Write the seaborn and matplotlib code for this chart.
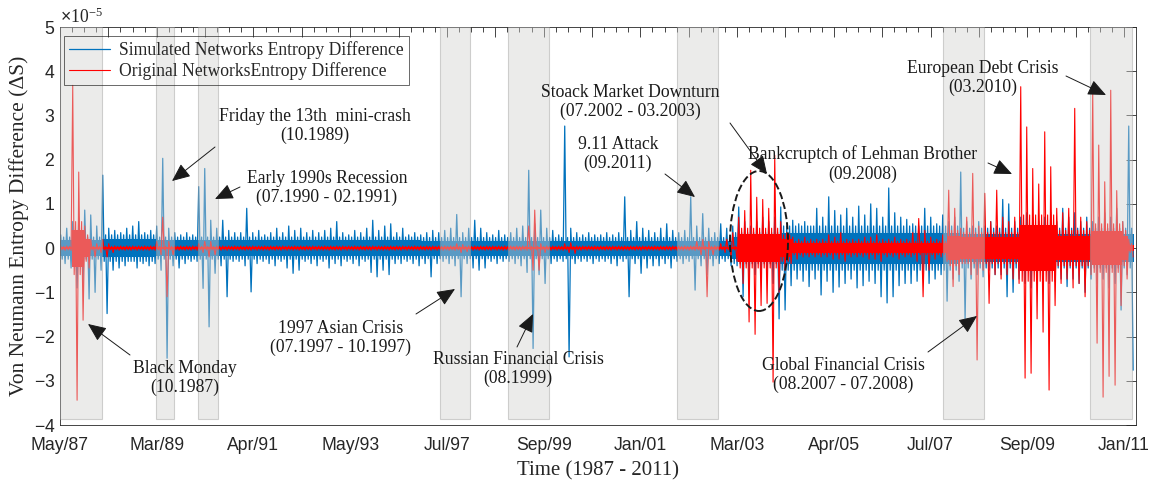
import numpy as np
import pandas as pd
import matplotlib
matplotlib.use("Agg")
import matplotlib.pyplot as plt
import seaborn as sns
from matplotlib.patches import Rectangle, Ellipse
from matplotlib.ticker import FixedLocator, ScalarFormatter

# -------------------------------
# Data (entropy difference in units of 1e-5)
# one (hi, lo) pair per bin of 33 trading days
# -------------------------------
BIN = 33
N_DAYS = 5918

sim_hi = [0.30, 0.45, 0.60, 0.70, 0.86, 0.75, 0.50, 1.65, 0.45, 0.40,
          0.35, 0.45, 0.50, 0.60, 0.35, 0.40, 0.50, 2.03, 0.45, 0.35,
          0.30, 0.35, 0.30, 1.39, 1.80, 0.63, 0.45, 0.63, 0.40, 0.35,
          0.35, 0.90, 0.35, 0.40, 0.30, 0.35, 0.45, 0.35, 0.50, 0.40,
          0.45, 0.35, 0.40, 0.35, 0.40, 0.45, 0.60, 0.35, 0.30, 0.40,
          0.35, 0.45, 0.63, 0.40, 0.50, 0.55, 0.35, 0.45, 0.30, 0.35,
          0.30, 0.35, 0.40, 0.35, 0.40, 0.45, 0.76, 0.35, 0.45, 0.63,
          0.45, 0.35, 0.30, 0.40, 0.30, 0.35, 0.45, 0.50, 1.76, 0.55,
          0.86, 0.45, 0.40, 0.30, 2.76, 0.45, 0.35, 0.30, 0.35, 0.30,
          0.30, 0.35, 0.30, 0.35, 1.16, 0.40, 0.60, 0.45, 0.40, 0.35,
          0.45, 0.55, 0.40, 0.35, 0.40, 1.16, 0.50, 0.78, 0.45, 0.35,
          0.55, 0.45, 0.50, 0.93, 0.60, 0.50, 0.60, 0.70, 0.60, 0.70,
          0.93, 0.50, 0.63, 0.55, 0.60, 0.50, 0.90, 0.70, 1.16, 0.85,
          0.75, 0.90, 0.70, 0.95, 0.75, 1.00, 0.90, 0.70, 1.36, 0.80,
          0.70, 0.65, 0.55, 0.50, 0.90, 0.70, 0.55, 0.75, 0.60, 0.70,
          1.72, 0.60, 0.50, 0.60, 0.50, 0.60, 0.50, 1.10, 1.00, 0.60,
          0.70, 0.80, 0.70, 0.60, 0.70, 0.80, 0.60, 0.90, 0.70, 0.80,
          0.60, 0.70, 0.60, 0.70, 0.80, 0.70, 0.90, 0.60, 2.76]

sim_lo = [-0.35, -0.45, -0.90, -0.80, -1.15, -1.00, -0.50, -1.48, -0.50, -0.45,
          -0.40, -0.30, -0.45, -0.35, -0.40, -0.35, -0.50, -2.49, -0.40, -0.45,
          -0.35, -0.30, -0.30, -0.91, -1.78, -0.57, -0.40, -1.10, -0.30, -0.30,
          -0.40, -0.99, -0.35, -0.30, -0.35, -0.40, -0.30, -0.45, -0.57, -0.50,
          -0.30, -0.35, -0.40, -0.30, -0.45, -0.35, -0.40, -0.30, -0.35, -0.40,
          -0.30, -0.55, -0.65, -0.50, -0.60, -0.35, -0.35, -0.30, -0.35, -0.40,
          -0.35, -0.65, -0.35, -0.30, -0.35, -0.40, -1.10, -0.35, -0.45, -0.50,
          -0.45, -0.30, -0.35, -0.30, -0.30, -0.35, -0.40, -0.55, -2.27, -0.60,
          -0.80, -0.35, -0.30, -0.30, -2.46, -0.35, -0.30, -0.30, -0.35, -0.30,
          -0.30, -0.35, -0.40, -0.30, -1.10, -0.35, -0.57, -0.45, -0.40, -0.40,
          -0.35, -0.45, -0.30, -0.35, -0.30, -0.95, -0.40, -0.60, -0.40, -0.35,
          -0.30, -0.40, -0.40, -1.10, -0.70, -0.60, -0.70, -0.60, -0.80, -1.60,
          -1.40, -0.85, -0.70, -0.75, -0.87, -0.70, -1.06, -0.75, -1.00, -0.88,
          -0.80, -0.70, -0.90, -0.85, -0.75, -0.80, -1.10, -1.24, -1.10, -0.85,
          -0.80, -0.80, -0.75, -0.70, -0.80, -0.70, -0.60, -1.20, -0.70, -0.75,
          -1.63, -0.70, -0.60, -0.65, -0.50, -0.60, -0.60, -1.10, -1.00, -0.70,
          -0.80, -0.90, -0.80, -0.70, -0.80, -0.75, -0.70, -0.87, -0.70, -0.80,
          -1.00, -0.70, -0.80, -0.70, -0.90, -0.80, -1.40, -0.60, -2.76]

orig_hi = [0.05, 0.05, 3.68, 1.72, 0.50, 0.20, 0.10, 0.20, 0.10, 0.05,
           0.05, 0.05, 0.05, 0.05, 0.05, 0.05, 0.15, 0.70, 0.15, 0.05,
           0.05, 0.05, 0.05, 0.10, 0.15, 0.15, 0.05, 0.05, 0.05, 0.05,
           0.05, 0.05, 0.05, 0.05, 0.05, 0.05, 0.05, 0.05, 0.05, 0.05,
           0.05, 0.05, 0.05, 0.05, 0.05, 0.05, 0.05, 0.05, 0.05, 0.05,
           0.05, 0.05, 0.05, 0.05, 0.05, 0.05, 0.05, 0.05, 0.05, 0.05,
           0.05, 0.05, 0.05, 0.05, 0.05, 0.05, 0.10, 0.08, 0.05, 0.05,
           0.05, 0.05, 0.05, 0.05, 0.05, 0.05, 0.05, 0.05, 0.50, 0.86,
           0.10, 0.05, 0.05, 0.05, 0.10, 0.12, 0.05, 0.05, 0.05, 0.05,
           0.05, 0.05, 0.05, 0.05, 0.05, 0.05, 0.05, 0.05, 0.05, 0.05,
           0.05, 0.05, 0.05, 0.05, 0.05, 0.05, 0.15, 0.20, 0.15, 0.05,
           0.10, 0.20, 0.35, 0.70, 0.85, 1.76, 1.15, 1.10, 0.90, 2.10,
           0.60, 0.35, 0.25, 0.20, 0.25, 0.20, 0.20, 0.20, 0.30, 0.25,
           0.35, 0.20, 0.20, 0.20, 0.25, 0.25, 0.30, 0.20, 0.20, 0.25,
           0.20, 0.20, 0.35, 0.67, 0.40, 0.25, 0.20, 0.30, 1.31, 0.90,
           0.45, 0.70, 1.69, 0.50, 1.24, 0.60, 1.31, 0.70, 0.60, 0.70,
           3.65, 2.74, 1.80, 1.45, 2.63, 1.84, 0.90, 0.80, 0.90, 3.16,
           0.70, 0.60, 3.53, 2.33, 1.50, 3.57, 1.30, 0.60, 0.20]

orig_lo = [-0.05, -0.05, -3.44, -1.63, -0.45, -0.20, -0.10, -0.20, -0.10, -0.05,
           -0.05, -0.05, -0.05, -0.05, -0.05, -0.05, -0.15, -1.10, -0.15, -0.05,
           -0.05, -0.05, -0.05, -0.10, -0.20, -0.15, -0.05, -0.05, -0.05, -0.05,
           -0.05, -0.05, -0.05, -0.05, -0.05, -0.05, -0.05, -0.05, -0.05, -0.05,
           -0.05, -0.05, -0.05, -0.05, -0.05, -0.05, -0.05, -0.05, -0.05, -0.05,
           -0.05, -0.05, -0.05, -0.05, -0.05, -0.05, -0.05, -0.05, -0.05, -0.05,
           -0.05, -0.05, -0.05, -0.05, -0.05, -0.05, -0.10, -0.08, -0.05, -0.05,
           -0.05, -0.05, -0.05, -0.05, -0.05, -0.05, -0.05, -0.05, -0.50, -0.50,
           -0.10, -0.05, -0.05, -0.05, -0.10, -0.12, -0.05, -0.05, -0.05, -0.05,
           -0.05, -0.05, -0.05, -0.05, -0.05, -0.05, -0.05, -0.05, -0.05, -0.05,
           -0.05, -0.05, -0.05, -0.05, -0.05, -0.05, -0.15, -1.10, -0.15, -0.05,
           -0.10, -0.20, -0.30, -0.80, -1.67, -1.95, -1.30, -1.25, -3.03, -1.00,
           -0.50, -0.35, -0.25, -0.20, -0.20, -0.20, -0.20, -0.20, -0.25, -0.25,
           -0.30, -0.20, -0.20, -0.20, -0.25, -0.25, -0.30, -0.20, -0.20, -0.25,
           -0.20, -0.20, -0.30, -1.10, -0.50, -0.25, -0.20, -0.30, -0.87, -0.60,
           -0.35, -0.60, -2.53, -0.50, -1.25, -0.60, -0.70, -0.60, -0.70, -0.80,
           -2.94, -2.83, -1.60, -1.90, -3.21, -1.30, -0.80, -0.70, -0.90, -0.80,
           -1.10, -0.60, -2.15, -3.37, -2.90, -3.10, -1.30, -0.70, -0.20]

# amplitude of the dense core of each series, per regime (first bin of regime)
sim_core_from = [0, 7, 16, 60, 112, 120, 150]
sim_core = [0.25, 0.30, 0.25, 0.24, 0.35, 0.50, 0.45]
orig_core_from = [0, 2, 4, 5, 113, 120, 122, 148, 150, 160, 166, 172, 177, 178]
orig_core = [0.04, 0.60, 0.30, 0.04, 0.45, 0.30, 0.15, 0.40, 0.35, 0.75, 0.40, 0.55, 0.40, 0.10]

# crisis periods (trading day index)
crisis_start = [0, 528, 759, 2090, 2464, 3394, 4857, 5665]
crisis_end = [231, 627, 869, 2255, 2690, 3619, 5082, 5896]

tick_labels = ["May/87", "Mar/89", "Apr/91", "May/93", "Jul/97", "Sep/99",
               "Jan/01", "Mar/03", "Apr/05", "Jul/07", "Sep/09", "Jan/11"]


def core_per_bin(core_from, core, n):
    return np.repeat(core, np.diff(np.append(core_from, n)))


def series(hi, lo, c):
    start = np.arange(len(hi)) * BIN
    x = np.column_stack([start + 4, start + 12, start + 20, start + 28]).ravel()
    y = np.column_stack([hi, -c, c, lo]).ravel() * 1e-5
    return pd.DataFrame({"day": x, "dS": y})


def draw(ax, hi, lo, core_from, core, color, label, lw):
    c = core_per_bin(core_from, core, len(hi))
    # solid inner part of the band; the outer part is left to the line itself
    edges = np.arange(len(hi) + 1) * BIN
    cc = np.append(c, c[-1]) * 0.7e-5
    ax.fill_between(edges, -cc, cc, step="post", color=color, lw=0, zorder=2)
    sns.lineplot(data=series(hi, lo, c), x="day", y="dS", ax=ax, color=color,
                 lw=lw, estimator=None, sort=False, zorder=2, label=label)


sns.set_theme(style="white")
plt.rcParams["font.family"] = ["Liberation Serif", "DejaVu Serif"]
plt.rcParams["axes.unicode_minus"] = False
plt.rcParams["mathtext.fontset"] = "custom"
plt.rcParams["mathtext.rm"] = "Liberation Sans"

BLUE = "#0072BD"
RED = "#FF0000"
INK = "#262626"

fig = plt.figure(figsize=(11.65, 4.87), dpi=100)
ax = fig.add_axes([60 / 1165, 62 / 487, 1076 / 1165, 398 / 487])

draw(ax, sim_hi, sim_lo, sim_core_from, sim_core, BLUE,
     "Simulated Networks Entropy Difference", 0.9)
draw(ax, orig_hi, orig_lo, orig_core_from, orig_core, RED,
     "Original NetworksEntropy Difference", 0.8)

# shaded crisis periods
for s, t in zip(crisis_start, crisis_end):
    ax.add_patch(Rectangle((s, -3.87e-5), t - s, 8.87e-5, facecolor=(0.82, 0.82, 0.81),
                           edgecolor=(0.6, 0.6, 0.6), lw=0.8, alpha=0.43, zorder=3))

ax.set_xlim(0, N_DAYS)
ax.set_ylim(-4e-5, 5e-5)

# axes styling (MATLAB look)
major = np.arange(23) * 266
ax.xaxis.set_major_locator(FixedLocator(major))
ax.set_xticklabels([tick_labels[i // 2] if i % 2 == 0 else "" for i in range(23)])
ax.xaxis.set_minor_locator(FixedLocator(np.arange(0, N_DAYS, 66.5)))
ax.set_yticks(np.arange(-4, 6) * 1e-5)
fmt = ScalarFormatter(useMathText=True)
fmt.set_powerlimits((0, 0))
ax.yaxis.set_major_formatter(fmt)

ax.tick_params(which="both", direction="in", top=True, right=True, colors=INK,
               labelsize=12.7, width=0.6)
ax.tick_params(which="major", length=7)
ax.tick_params(which="minor", length=3.5)
ax.tick_params(axis="x", pad=9)
for lab in ax.get_xticklabels() + ax.get_yticklabels():
    lab.set_fontfamily("Liberation Sans")
ax.yaxis.get_offset_text().set_fontsize(12.7)
ax.yaxis.get_offset_text().set_color(INK)
for sp in ax.spines.values():
    sp.set_color(INK)
    sp.set_linewidth(0.6)

ax.set_xlabel("Time (1987 - 2011)", fontsize=15, color=INK, labelpad=5)
ax.set_ylabel("Von Neumann Entropy Difference (ΔS)", fontsize=15.5, color=INK, labelpad=3)

leg = ax.legend(loc="upper left", bbox_to_anchor=(4 / 1076, 389 / 398), borderaxespad=0,
                fontsize=12.7, frameon=True, fancybox=False, facecolor="none",
                edgecolor=INK, handlelength=2.3, handletextpad=0.5, borderpad=0.3,
                labelspacing=0.15)
leg.get_frame().set_linewidth(0.6)
leg.set_zorder(6)

# dashed ellipse round the 2003 burst
ax.add_patch(Ellipse(((759 - 60) / 1076, (425 - 241) / 398), 58 / 1076, 140 / 398,
                     transform=ax.transAxes, fill=False, ls="--", lw=1.4, ec="k", zorder=5))

# event annotations: text centre, arrow tail, arrow head (figure pixels from top-left)
events = [
    ("Black Monday\n(10.1987)", (185, 378), (130, 355), (88, 324)),
    ("Friday the 13th  mini-crash\n(10.1989)", (315, 126), (215, 147), (172, 181)),
    ("Early 1990s Recession\n(07.1990 - 02.1991)", (327, 188), (240, 187), (215, 199)),
    ("1997 Asian Crisis\n(07.1997 - 10.1997)", (341, 338), (416, 314), (455, 289)),
    ("Russian Financial Crisis\n(08.1999)", (518, 369), (517, 347), (533, 314)),
    ("9.11 Attack\n(09.2011)", (618, 154), (665, 174), (695, 197)),
    ("Stoack Market Downturn\n(07.2002 - 03.2003)", (630, 102), (730, 123), (767, 174)),
    ("Bankcruptch of Lehman Brother\n(09.2008)", (863, 164), (988, 163), (1012, 174)),
    ("European Debt Crisis\n(03.2010)", (983, 78), (1066, 76), (1106, 95)),
    ("Global Financial Crisis\n(08.2007 - 07.2008)", (843, 375), (928, 352), (977, 316)),
]
for txt, (tx, ty), tail, head in events:
    fig.text(tx / 1165, 1 - ty / 487, txt, ha="center", va="center", fontsize=12.7,
             color="#1a1a1a", linespacing=1.2, zorder=7)
    ax.annotate("", xy=(head[0], 487 - head[1]), xytext=(tail[0], 487 - tail[1]),
                xycoords="figure pixels", textcoords="figure pixels",
                arrowprops=dict(arrowstyle="-|>,head_length=0.8,head_width=0.35",
                                color="k", lw=0.7, shrinkA=0, shrinkB=0,
                                mutation_scale=14), zorder=7)

fig.savefig("out.png", dpi=100)
